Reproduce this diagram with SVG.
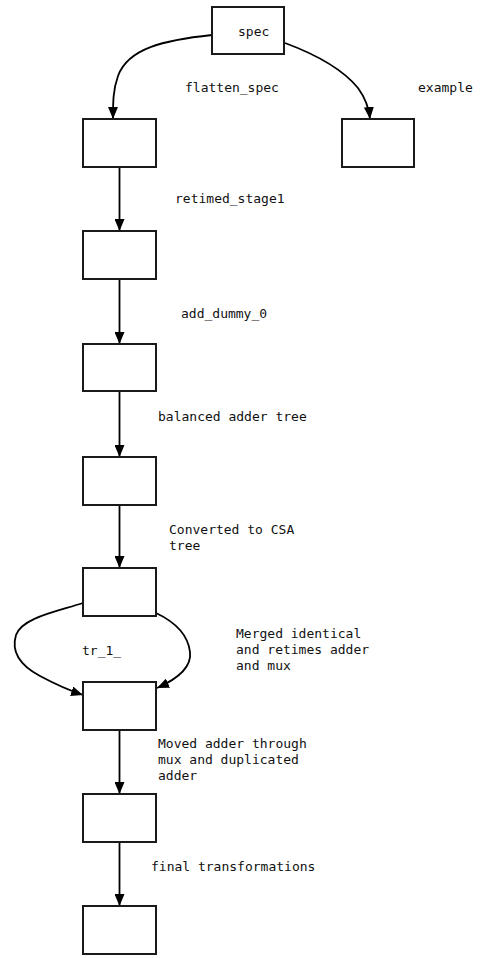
<svg xmlns="http://www.w3.org/2000/svg" width="481" height="958" viewBox="0 0 481 958">
  <style>
    .node rect { fill: #ffffff; stroke: #1a1a1a; stroke-width: 2; }
    .edge { fill: none; stroke: #000000; stroke-width: 1.8; }
    text { font-family: "DejaVu Sans Mono", "Liberation Mono", monospace; font-size: 13px; fill: #111111; }
  </style>
  <defs>
    <marker id="arrow" viewBox="0 0 12 10" refX="12" refY="5" markerWidth="12" markerHeight="10" markerUnits="userSpaceOnUse" orient="auto">
      <path d="M0,0 L12,5 L0,10 z" fill="#000000"/>
    </marker>
  </defs>

  <rect x="0" y="0" width="481" height="958" fill="#ffffff"/>

  <!-- connectors -->
  <g id="edges">
    <path class="edge" d="M212,35 C165,40 128,48 118,76 C113,90 113,102 113,119" marker-end="url(#arrow)"/>
    <path class="edge" d="M285,43 C320,56 345,72 358,88 C366,99 369,108 370,119" marker-end="url(#arrow)"/>
    <path class="edge" d="M119.5,167 L119.5,231" marker-end="url(#arrow)"/>
    <path class="edge" d="M119.5,279 L119.5,344" marker-end="url(#arrow)"/>
    <path class="edge" d="M119.5,391 L119.5,457" marker-end="url(#arrow)"/>
    <path class="edge" d="M119.5,505 L119.5,568" marker-end="url(#arrow)"/>
    <path class="edge" d="M83,603 C55,612 22,618 16,635 C10,655 25,668 40,676 C55,684 68,690 83,695" marker-end="url(#arrow)"/>
    <path class="edge" d="M156,613 C175,622 188,635 190,652 C192,668 175,680 157,688" marker-end="url(#arrow)"/>
    <path class="edge" d="M119.5,730 L119.5,794" marker-end="url(#arrow)"/>
    <path class="edge" d="M119.5,842 L119.5,906" marker-end="url(#arrow)"/>
  </g>

  <!-- nodes -->
  <g id="spec" class="node">
    <rect x="212" y="7" width="72" height="47"/>
    <text x="238" y="36">spec</text>
  </g>
  <g id="flatten" class="node"><rect x="83" y="119" width="73" height="48"/></g>
  <g id="example" class="node"><rect x="342" y="119" width="72" height="48"/></g>
  <g id="stage1" class="node"><rect x="83" y="231" width="73" height="48"/></g>
  <g id="dummy" class="node"><rect x="83" y="344" width="73" height="47"/></g>
  <g id="balanced" class="node"><rect x="83" y="457" width="73" height="48"/></g>
  <g id="csa" class="node"><rect x="83" y="568" width="73" height="48"/></g>
  <g id="merged" class="node"><rect x="83" y="682" width="73" height="48"/></g>
  <g id="moved" class="node"><rect x="83" y="794" width="73" height="48"/></g>
  <g id="final" class="node"><rect x="83" y="906" width="73" height="48"/></g>

  <!-- edge labels -->
  <g id="labels">
    <text x="185" y="92">flatten_spec</text>
    <text x="418" y="92">example</text>
    <text x="175" y="203">retimed_stage1</text>
    <text x="181" y="318">add_dummy_0</text>
    <text x="158" y="421">balanced adder tree</text>
    <text x="169" y="534">Converted to CSA</text>
    <text x="169" y="550">tree</text>
    <text x="82" y="655">tr_1_</text>
    <text x="236" y="638">Merged identical</text>
    <text x="236" y="654">and retimes adder</text>
    <text x="236" y="670">and mux</text>
    <text x="158" y="748">Moved adder through</text>
    <text x="158" y="764">mux and duplicated</text>
    <text x="158" y="780">adder</text>
    <text x="151" y="871">final transformations</text>
  </g>
</svg>
